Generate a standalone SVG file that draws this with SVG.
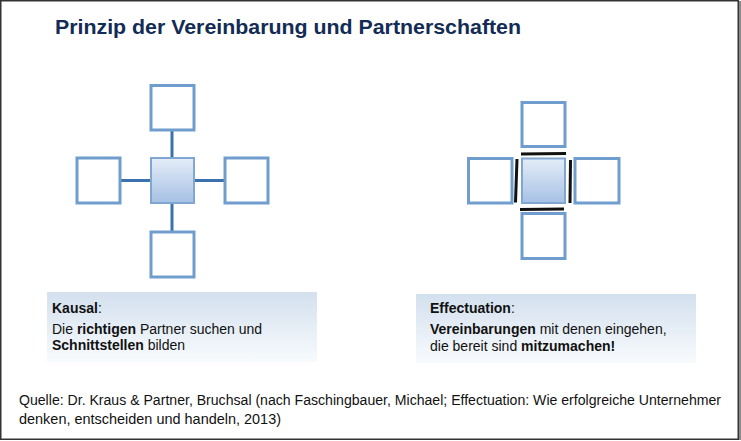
<svg xmlns="http://www.w3.org/2000/svg" width="741" height="441" viewBox="0 0 741 441">
<defs>
<linearGradient id="core" x1="0" y1="0" x2="0" y2="1">
<stop offset="0" stop-color="#e4edf8"/>
<stop offset="1" stop-color="#a6c1e4"/>
</linearGradient>
<linearGradient id="panel" x1="0" y1="0" x2="0" y2="1">
<stop offset="0" stop-color="#d3e0ee"/>
<stop offset="1" stop-color="#f8fbfd"/>
</linearGradient>
<style>
.box{fill:#ffffff;stroke:#6f9dcd;stroke-width:3}
.core{fill:url(#core);stroke:#80a7d2;stroke-width:2}
.link{stroke:#3b72ad;stroke-width:3;fill:none}
.bar{stroke:#111111;stroke-width:3;fill:none}
.panel{fill:url(#panel)}
.t{font-family:"Liberation Sans",Arial,sans-serif;font-size:14px;fill:#111111}
.b{font-weight:bold}
.title{font-family:"Liberation Sans",Arial,sans-serif;font-size:20px;font-weight:bold;fill:#132c55}
.src{font-family:"Liberation Sans",Arial,sans-serif;font-size:14px;fill:#111111}
</style>
</defs>
<rect x="0" y="0" width="741" height="441" fill="#ffffff"/>
<rect x="738.5" y="1" width="2.5" height="439" fill="#8a8a8a"/>
<rect x="0.75" y="0.75" width="737.5" height="438.5" fill="none" stroke="#333333" stroke-width="1.5"/>

<text class="title" x="55" y="34" textLength="466" lengthAdjust="spacingAndGlyphs">Prinzip der Vereinbarung und Partnerschaften</text>

<g id="connectors">
<line class="link" x1="172" y1="130" x2="172" y2="158"/>
<line class="link" x1="172" y1="203" x2="172" y2="232"/>
<line class="link" x1="120" y1="180.5" x2="150" y2="180.5"/>
<line class="link" x1="194" y1="180.5" x2="224" y2="180.5"/>
<line class="bar" x1="521" y1="154" x2="566" y2="153.5"/>
<line class="bar" x1="520" y1="209.5" x2="564" y2="209"/>
<line class="bar" x1="517" y1="159" x2="515.5" y2="202.5"/>
<line class="bar" x1="570.5" y1="160" x2="570" y2="203"/>
</g>

<g id="kausal-center"><rect class="core" x="151" y="158" width="43" height="45"/></g>
<g id="kausal-top"><rect class="box" x="151" y="85.5" width="43" height="44.5"/></g>
<g id="kausal-bottom"><rect class="box" x="151" y="232" width="43" height="45"/></g>
<g id="kausal-left"><rect class="box" x="77" y="158" width="43" height="45"/></g>
<g id="kausal-right"><rect class="box" x="225" y="158" width="43" height="45"/></g>

<g id="eff-center"><rect class="core" x="522" y="158.5" width="43" height="44.5"/></g>
<g id="eff-top"><rect class="box" x="522" y="102.5" width="43" height="44"/></g>
<g id="eff-bottom"><rect class="box" x="522" y="213.5" width="43" height="45"/></g>
<g id="eff-left"><rect class="box" x="468.5" y="158.5" width="43.5" height="44.5"/></g>
<g id="eff-right"><rect class="box" x="575" y="158.5" width="44" height="44.5"/></g>

<g id="panel-kausal">
<rect class="panel" x="47" y="292" width="270" height="70"/>
<text class="t" x="52" y="313"><tspan class="b">Kausal</tspan>:</text>
<text class="t" x="52" y="334">Die <tspan class="b">richtigen</tspan> Partner suchen und</text>
<text class="t" x="52" y="350"><tspan class="b">Schnittstellen</tspan> bilden</text>
</g>

<g id="panel-effectuation">
<rect class="panel" x="416" y="294" width="280" height="69"/>
<text class="t" x="430" y="313"><tspan class="b">Effectuation</tspan>:</text>
<text class="t" x="430" y="334"><tspan class="b">Vereinbarungen</tspan> mit denen eingehen,</text>
<text class="t" x="430" y="351">die bereit sind <tspan class="b">mitzumachen!</tspan></text>
</g>

<g id="source">
<text class="src" x="19" y="405" textLength="702" lengthAdjust="spacingAndGlyphs">Quelle: Dr. Kraus &amp; Partner, Bruchsal (nach Faschingbauer, Michael; Effectuation: Wie erfolgreiche Unternehmer</text>
<text class="src" x="19" y="424" textLength="262" lengthAdjust="spacingAndGlyphs">denken, entscheiden und handeln, 2013)</text>
</g>
</svg>
